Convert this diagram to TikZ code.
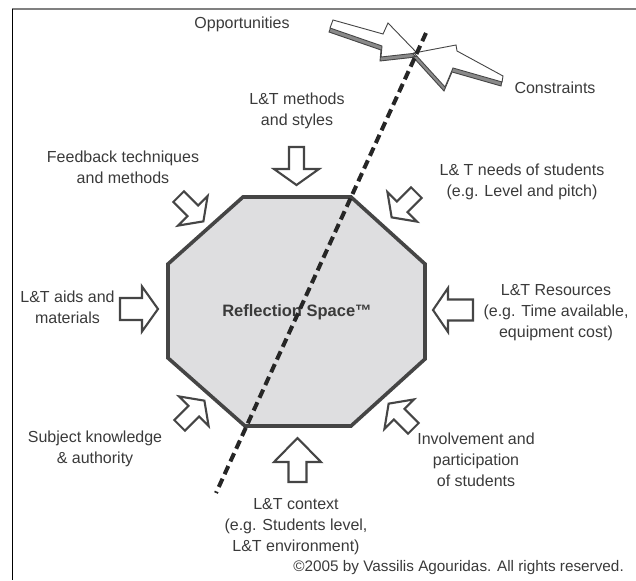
\documentclass[tikz,border=0pt]{standalone}
\usepackage{fontspec}
\setmainfont{Liberation Sans}
\definecolor{txt}{HTML}{3A3A3A}
\definecolor{edge}{HTML}{454545}
\definecolor{octfill}{HTML}{DEDEE0}
\definecolor{shadowgray}{HTML}{8A8A8A}
\newcommand\blockarrow[7]{%
  \begin{scope}[shift={(#2)}, rotate=#3]
    \coordinate (#1) at (0,0);
    \draw[blockarr] ({-#4},{-#7}) -- ({#4-#5},{-#7}) -- ({#4-#5},{-#6}) -- ({#4},0)
      -- ({#4-#5},{#6}) -- ({#4-#5},{#7}) -- ({-#4},{#7}) -- cycle;
  \end{scope}}
\begin{document}
\begin{tikzpicture}[x=1pt,y=-1pt,
  lbl/.style={align=center, inner sep=0pt, text=txt, font=\fontsize{16}{21}\selectfont},
  blockarr/.style={draw=edge, fill=white, line width=2.1pt, line join=miter},
  octa/.style={draw=edge, fill=octfill, line width=3.6pt, line join=miter},
  bolt/.style={draw=edge, fill=white, line width=0.9pt, line join=miter},
  boltshadow/.style={draw=edge, fill=shadowgray, line width=0.9pt, line join=miter},
  divider/.style={draw=black!85, line width=4pt, dash pattern=on 9pt off 5pt}]
\useasboundingbox (0,0) rectangle (636,580);

% frame
\draw[draw=black!50, line width=2pt] (12,9.5) -- (636,9.5);
\draw[draw=black, line width=1pt] (12.5,9) -- (12.5,580);

% octagon
\coordinate (o1) at (243,197);
\coordinate (o2) at (351,197);
\coordinate (o3) at (425,264);
\coordinate (o4) at (425,359);
\coordinate (o5) at (351,426);
\coordinate (o6) at (245,426);
\coordinate (o7) at (168,358);
\coordinate (o8) at (168,264);
\draw[octa] (o1) -- (o2) -- (o3) -- (o4) -- (o5) -- (o6) -- (o7) -- (o8) -- cycle;
\node[lbl, font=\fontsize{16.5}{20}\selectfont\bfseries] (rs) at (297,312) {Reflection Space™};

% block arrows
\blockarrow{aTop}{296.5,166}{-90}{19}{16}{22.5}{7.5}
\blockarrow{aBot}{297.5,460}{90}{22}{24}{23.5}{9}
\blockarrow{aLeft}{139,309}{0}{19}{16}{22.5}{11}
\blockarrow{aRight}{453,310}{180}{20}{15}{22}{10.5}
\blockarrow{aUL}{191,209}{-45}{17.5}{15}{21}{7.5}
\blockarrow{aUR}{404,205}{-135}{17.5}{15}{21}{7.5}
\blockarrow{aLL}{192,413}{45}{17.5}{15}{21}{7.5}
\blockarrow{aLR}{401,416}{135}{17.5}{15}{21}{7.5}

% lightning arrows
\begin{scope}[shift={(-1,4)}]
  \draw[boltshadow] (333,20) -- (383,34) -- (388,23) -- (417,53) -- (381,57) -- (382,46) -- (330,28) -- cycle;
  \draw[boltshadow] (414,53) -- (456,45) -- (457,51) -- (503,76) -- (502,82) -- (453,68) -- (445,87) -- cycle;
\end{scope}
\draw[bolt] (333,20) -- (383,34) -- (388,23) -- (417,53) -- (381,57) -- (382,46) -- (330,28) -- cycle;
\draw[bolt] (414,53) -- (456,45) -- (457,51) -- (503,76) -- (502,82) -- (453,68) -- (445,87) -- cycle;
\coordinate (boltmeet) at (416,53);

% dashed divider
\coordinate (dtop) at (426,33);
\coordinate (dbot) at (216,493);
\draw[divider] (dtop) -- (dbot);

% labels
\node[lbl] (opp) at (242,24) {Opportunities};
\node[lbl] (con) at (555,88) {Constraints};
\node[lbl] (meth) at (297,110.5) {L\&T methods\\and styles};
\node[lbl] (feed) at (123,167) {Feedback techniques\\and methods};
\node[lbl] (needs) at (522,181.5) {L\& T needs of students\\(e.g. Level and pitch)};
\node[lbl] (aids) at (67.5,307) {L\&T aids and\\materials};
\node[lbl] (res) at (556,313) {L\&T Resources\\(e.g. Time available,\\equipment cost)};
\node[lbl] (subj) at (95,449) {Subject knowledge\\\& authority};
\node[lbl] (inv) at (476,460) {Involvement and\\participation\\of students};
\node[lbl] (ctx) at (296,527) {L\&T context\\(e.g. Students level,\\L\&T environment)};
\node[lbl, anchor=east, font=\fontsize{15.3}{19}\selectfont] (copy) at (624,568) {©2005 by Vassilis Agouridas. All rights reserved.};
\end{tikzpicture}
\end{document}
